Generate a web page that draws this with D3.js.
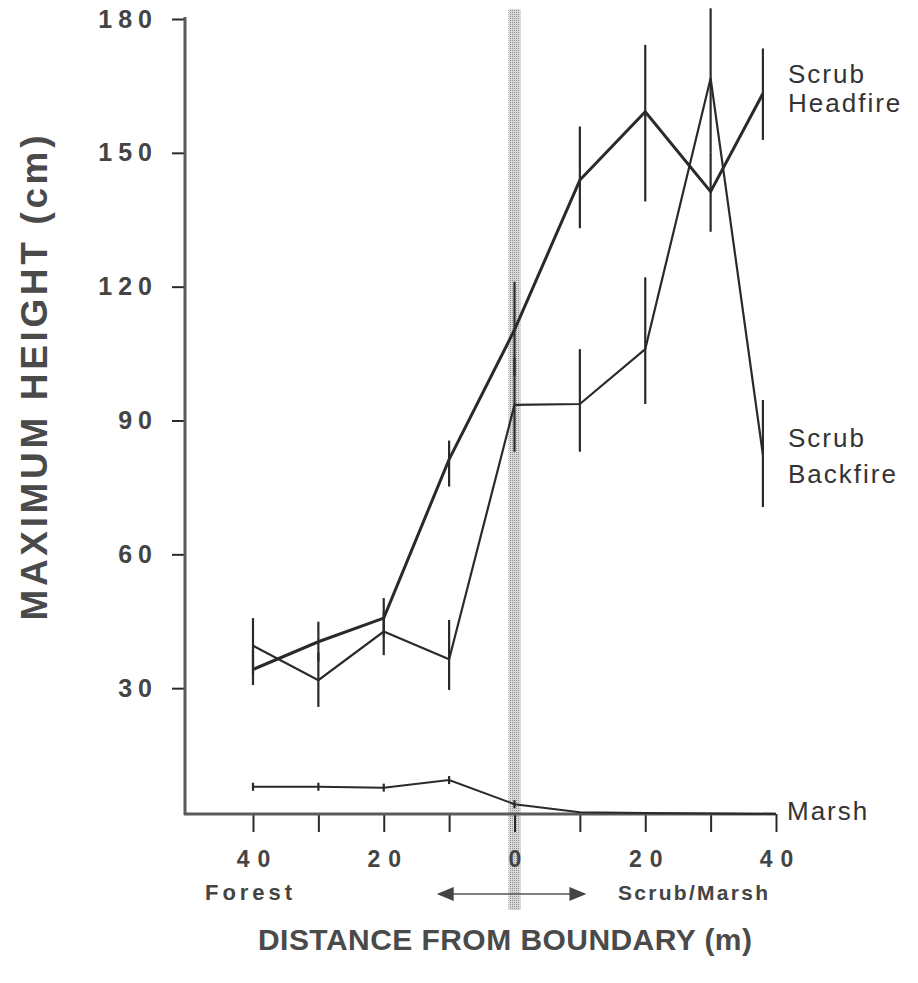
<!DOCTYPE html>
<html>
<head>
<meta charset="utf-8">
<script src="https://cdn.jsdelivr.net/npm/d3@7"></script>
<style>
  body { margin: 0; background: #fff; }
  svg { display: block; font-family: Arial, "Liberation Sans", Helvetica, sans-serif; }
</style>
</head>
<body>
<svg width="918" height="983"></svg>
<script>
// distances from the forest/scrub boundary (negative = forest side)
const distances = [-40, -30, -20, -10, 0, 10, 20, 30, 38];
const marshDist = [-40, -30, -20, -10, 0, 10, 20, 30, 40];

// Scrub headfire: mean max height and error bar ends (cm)
const headfire   = [34.2, 40.4, 45.7, 81.3, 110.3, 143.9, 159.2, 141.3, 163.3];
const headfireLo = [30.7, 36.0, 41.5, 75.2, 100.0, 133.1, 139.1, 132.3, 152.9];
const headfireHi = [38.5, 44.9, 50.2, 85.5, 121.1, 155.9, 174.2, 150.0, 173.4];

// Scrub backfire
const backfire   = [39.5, 31.8, 42.7, 36.5, 93.5, 93.7, 106.0, 166.7, 82.3];
const backfireLo = [33.0, 25.8, 37.4, 29.6, 83.0, 83.0, 93.7, 150.0, 70.6];
const backfireHi = [45.7, 38.0, 47.0, 45.3, 104.0, 106.0, 122.1, 182.4, 94.6];

// Marsh
const marsh    = [7.9, 7.9, 7.7, 9.4, 4.0, 2.2, 2.0, 1.9, 1.8];
const marshErr = [0.9, 0.9, 0.9, 0.9, 0.9, 0, 0, 0, 0];

const yTicks = [30, 60, 90, 120, 150, 180];
const xTicks = [-40, -30, -20, -10, 0, 10, 20, 30, 40];
const xLabelled = [-40, -20, 0, 20, 40];

const svg = d3.select("svg");
const ink = "#2a2a2a";
const grey = "#555";

const x = d3.scaleLinear().domain([-50.4, 40]).range([185, 776]);
const y = d3.scaleLinear().domain([0, 180]).range([822, 19]);
const axisY = 814;

// stippled pattern for the boundary band
const defs = svg.append("defs");
const pat = defs.append("pattern")
    .attr("id", "stip")
    .attr("width", 2).attr("height", 2)
    .attr("patternUnits", "userSpaceOnUse");
pat.append("rect").attr("width", 2).attr("height", 2).attr("fill", "#dadada");
pat.append("rect").attr("width", 1).attr("height", 1).attr("fill", "#8f8f8f");

// boundary band at distance 0
svg.append("rect")
    .attr("x", x(0) - 6)
    .attr("y", 9)
    .attr("width", 12)
    .attr("height", 901)
    .attr("fill", "url(#stip)");

// Y axis
const yAxis = svg.append("g")
    .attr("transform", `translate(${x.range()[0]},0)`)
    .call(d3.axisLeft(y).tickValues(yTicks).tickSize(13).tickSizeOuter(0).tickPadding(14));
yAxis.select(".domain").remove();
yAxis.selectAll(".tick line").attr("stroke", ink).attr("stroke-width", 2);
yAxis.selectAll(".tick text")
    .attr("fill", "#444")
    .style("font-size", "25px")
    .style("font-weight", "bold")
    .style("letter-spacing", "6px");

svg.append("line")
    .attr("x1", x.range()[0]).attr("x2", x.range()[0])
    .attr("y1", y(180) - 2).attr("y2", axisY + 1)
    .attr("stroke", "#5a5a5a").attr("stroke-width", 3);

// X axis
const xAxis = svg.append("g")
    .attr("transform", `translate(0,${axisY})`)
    .call(d3.axisBottom(x).tickValues(xTicks).tickSize(18).tickSizeOuter(0).tickPadding(19)
        .tickFormat(d => xLabelled.includes(d) ? String(Math.abs(d)) : ""));
xAxis.select(".domain").remove();
xAxis.selectAll(".tick line").attr("stroke", ink).attr("stroke-width", 2);
xAxis.selectAll(".tick text")
    .attr("fill", "#444")
    .attr("dx", "4px")
    .style("font-size", "23px")
    .style("font-weight", "bold")
    .style("letter-spacing", "8px");

svg.append("line")
    .attr("x1", x.range()[0] - 1).attr("x2", x(40))
    .attr("y1", axisY).attr("y2", axisY)
    .attr("stroke", "#5a5a5a").attr("stroke-width", 3);

// error bars + lines
function series(xs, vals, lo, hi, width) {
    const g = svg.append("g");
    g.selectAll("line.err")
        .data(xs.map((d, i) => ({ d, lo: lo[i], hi: hi[i] })))
        .enter().append("line")
        .attr("class", "err")
        .attr("x1", p => x(p.d)).attr("x2", p => x(p.d))
        .attr("y1", p => y(p.lo)).attr("y2", p => y(p.hi))
        .attr("stroke", ink).attr("stroke-width", 2.2);
    g.append("path")
        .datum(xs.map((d, i) => [d, vals[i]]))
        .attr("d", d3.line().x(p => x(p[0])).y(p => y(p[1])))
        .attr("fill", "none")
        .attr("stroke", ink)
        .attr("stroke-width", width)
        .attr("stroke-linejoin", "miter");
}

series(marshDist, marsh, marsh.map((v, i) => v - marshErr[i]), marsh.map((v, i) => v + marshErr[i]), 2);
series(distances, backfire, backfireLo, backfireHi, 2.2);
series(distances, headfire, headfireLo, headfireHi, 3);

// series labels
function label(lines, x0, y0, gap) {
    const t = svg.append("text")
        .attr("x", x0).attr("y", y0)
        .attr("fill", "#333")
        .style("font-size", "26px")
        .style("letter-spacing", "2px");
    lines.forEach((s, i) => {
        t.append("tspan").attr("x", x0).attr("dy", i === 0 ? 0 : gap).text(s);
    });
}
label(["Scrub", "Headfire"], 788, 83, 29);
label(["Scrub", "Backfire"], 788, 447, 36);
label(["Marsh"], 787, 820, 0);

// Forest / Scrub/Marsh and arrows
svg.append("text")
    .attr("x", 205).attr("y", 900)
    .attr("textLength", 87).attr("lengthAdjust", "spacing")
    .attr("fill", "#444")
    .style("font-size", "22px").style("font-weight", "bold")
    .text("Forest");
svg.append("text")
    .attr("x", 618).attr("y", 900)
    .attr("textLength", 150).attr("lengthAdjust", "spacing")
    .attr("fill", "#444")
    .style("font-size", "21px").style("font-weight", "bold")
    .text("Scrub/Marsh");

const arrowY = 894;
const leftTip = x(-11.9), rightTip = x(11);
svg.append("line")
    .attr("x1", leftTip + 12).attr("x2", rightTip - 12)
    .attr("y1", arrowY).attr("y2", arrowY)
    .attr("stroke", grey).attr("stroke-width", 1.4);
svg.append("path")
    .attr("d", `M${leftTip},${arrowY} L${leftTip + 17},${arrowY - 7} L${leftTip + 17},${arrowY + 7} Z`)
    .attr("fill", "#444");
svg.append("path")
    .attr("d", `M${rightTip},${arrowY} L${rightTip - 17},${arrowY - 7} L${rightTip - 17},${arrowY + 7} Z`)
    .attr("fill", "#444");

// axis titles
svg.append("text")
    .attr("x", 505).attr("y", 950)
    .attr("text-anchor", "middle")
    .attr("textLength", 494).attr("lengthAdjust", "spacing")
    .attr("fill", "#4a4a4a")
    .style("font-size", "30px").style("font-weight", "bold")
    .text("DISTANCE FROM BOUNDARY (m)");

svg.append("text")
    .attr("transform", "translate(47,378) rotate(-90)")
    .attr("text-anchor", "middle")
    .attr("textLength", 485).attr("lengthAdjust", "spacing")
    .attr("fill", "#4a4a4a")
    .style("font-size", "37px").style("font-weight", "bold")
    .text("MAXIMUM HEIGHT (cm)");
</script>
</body>
</html>
